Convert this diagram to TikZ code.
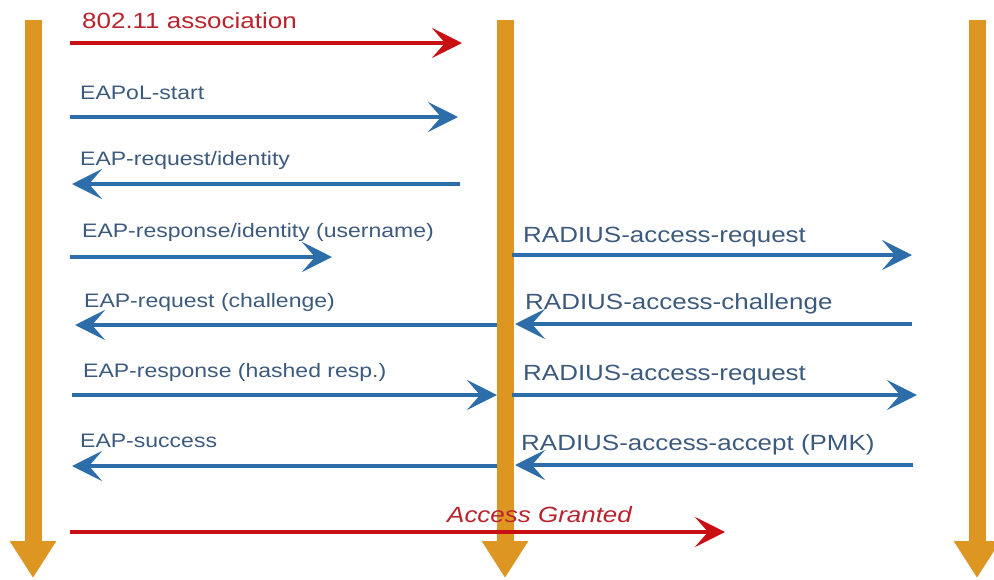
\documentclass[tikz,border=0pt]{standalone}
\usepackage{fontspec}
\setmainfont[FakeStretch=1.18]{Liberation Sans}
\usetikzlibrary{arrows.meta}
\definecolor{lifeorange}{RGB}{222,150,35}
\definecolor{msgblue}{RGB}{45,110,170}
\definecolor{msgred}{RGB}{200,15,20}
\definecolor{txtblue}{RGB}{60,90,125}
\definecolor{txtred}{RGB}{185,35,45}

\begin{document}
\begin{tikzpicture}[x=1pt,y=-1pt,
	life/.style={draw=lifeorange,line width=17pt,-{Triangle[length=37pt,width=44pt]}},
	msg/.style={draw=msgblue,line width=4.5pt,-{Stealth[length=30pt,width=30pt,inset=13pt]}},
	redmsg/.style={msg,draw=msgred},
	lbl/.style={anchor=base west,inner sep=0pt,text=txtblue,font=\fontsize{22}{24}\selectfont},
	eaplbl/.style={lbl,font=\fontsize{19.5}{22}\selectfont},
	redlbl/.style={lbl,text=txtred}]
	\useasboundingbox (0,0) rectangle (994,579);
	% lifelines
	\coordinate (staTop) at (33,20);
	\coordinate (staBot) at (33,578);
	\coordinate (apTop) at (505,20);
	\coordinate (apBot) at (505,578);
	\coordinate (srvTop) at (977,20);
	\coordinate (srvBot) at (977,578);
	\draw[life] (staTop) to (staBot);
	\draw[life] (apTop) to (apBot);
	\draw[life] (srvTop) to (srvBot);
	% message ends
	\coordinate (assocA) at (70,43);   \coordinate (assocB) at (462,43);
	\coordinate (startA) at (70,117);  \coordinate (startB) at (458,117);
	\coordinate (reqidA) at (460,184); \coordinate (reqidB) at (72,184);
	\coordinate (respidA) at (70,257); \coordinate (respidB) at (332,257);
	\coordinate (radreqA) at (512,255); \coordinate (radreqB) at (912,255);
	\coordinate (reqchA) at (497,325); \coordinate (reqchB) at (75,325);
	\coordinate (radchA) at (912,324); \coordinate (radchB) at (515,324);
	\coordinate (hashA) at (72,395);   \coordinate (hashB) at (497,395);
	\coordinate (radreqC) at (512,395); \coordinate (radreqD) at (917,395);
	\coordinate (succA) at (497,466);  \coordinate (succB) at (72,466);
	\coordinate (radaccA) at (913,465); \coordinate (radaccB) at (515,465);
	\coordinate (grantA) at (70,532);  \coordinate (grantB) at (725,532);
	\draw[redmsg] (assocA) to (assocB);
	\draw[msg] (startA) to (startB);
	\draw[msg] (reqidA) to (reqidB);
	\draw[msg] (respidA) to (respidB);
	\draw[msg] (radreqA) to (radreqB);
	\draw[msg] (reqchA) to (reqchB);
	\draw[msg] (radchA) to (radchB);
	\draw[msg] (hashA) to (hashB);
	\draw[msg] (radreqC) to (radreqD);
	\draw[msg] (succA) to (succB);
	\draw[msg] (radaccA) to (radaccB);
	\draw[redmsg] (grantA) to (grantB);
	% labels
	\node[redlbl] (assocL) at (82,28) {802.11 association};
	\node[eaplbl] (startL) at (80,99) {EAPoL-start};
	\node[eaplbl] (reqidL) at (80,165) {EAP-request/identity};
	\node[eaplbl] (respidL) at (82,237) {EAP-response/identity (username)};
	\node[lbl] (radreqL) at (523,242) {RADIUS-access-request};
	\node[eaplbl] (reqchL) at (84,307) {EAP-request (challenge)};
	\node[lbl] (radchL) at (525,309) {RADIUS-access-challenge};
	\node[eaplbl] (hashL) at (83,377) {EAP-response (hashed resp.)};
	\node[lbl] (radreqL2) at (523,380) {RADIUS-access-request};
	\node[eaplbl] (succL) at (80,447) {EAP-success};
	\node[lbl] (radaccL) at (521,450) {RADIUS-access-accept (PMK)};
	\node[redlbl,font=\fontsize{22}{24}\selectfont\itshape] (grantL) at (447,522) {Access Granted};
\end{tikzpicture}
\end{document}
